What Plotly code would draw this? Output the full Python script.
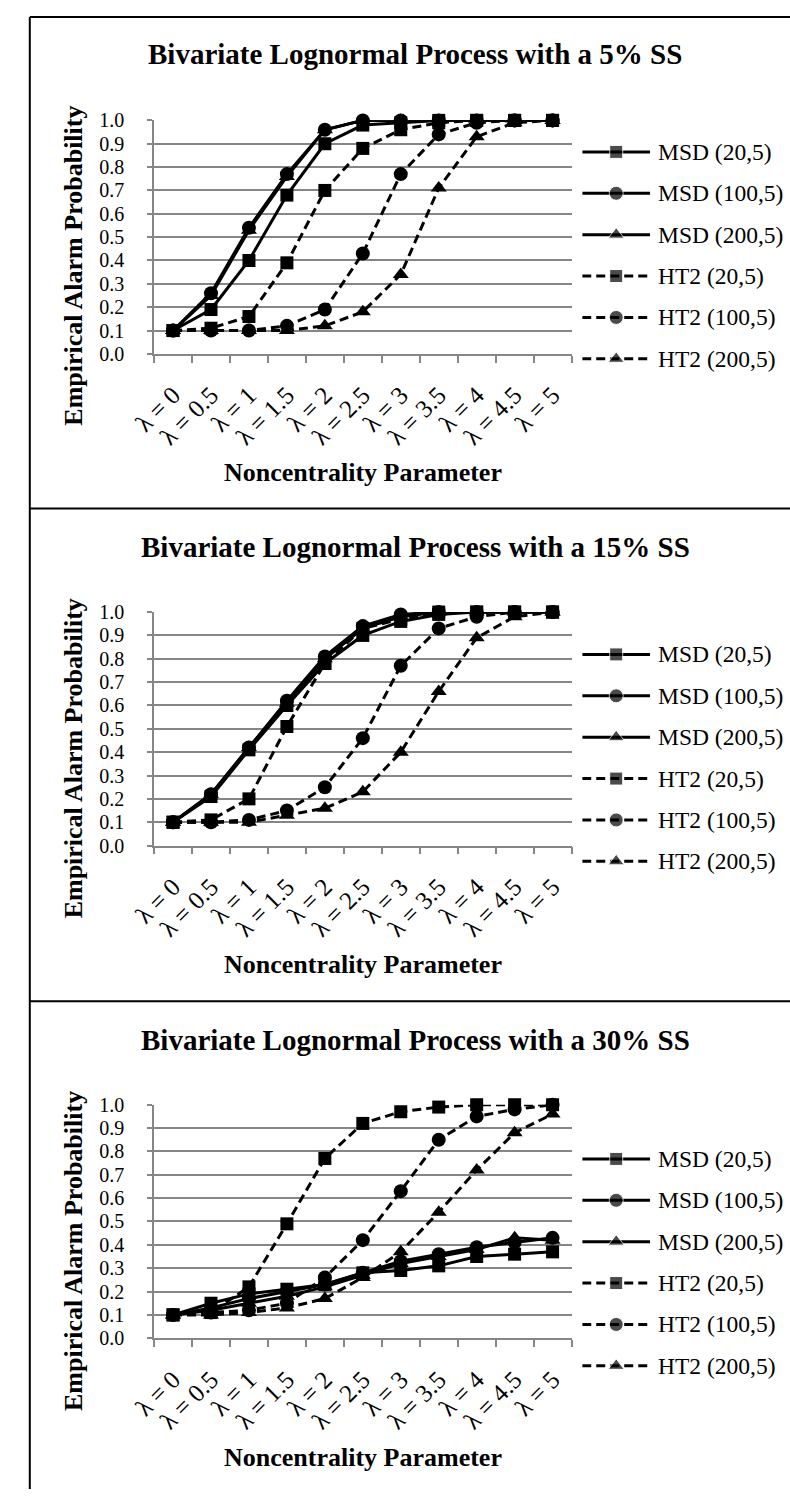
import plotly.graph_objects as go

W, H = 790, 1500

# ---- data -------------------------------------------------------------
categories = ["λ = 0", "λ = 0.5", "λ = 1", "λ = 1.5", "λ = 2", "λ = 2.5",
              "λ = 3", "λ = 3.5", "λ = 4", "λ = 4.5", "λ = 5"]

series_names = ["MSD (20,5)", "MSD (100,5)", "MSD (200,5)",
                "HT2 (20,5)", "HT2 (100,5)", "HT2 (200,5)"]

panel_titles = ["Bivariate Lognormal Process with a 5% SS",
                "Bivariate Lognormal Process with a 15% SS",
                "Bivariate Lognormal Process with a 30% SS"]

# 5% SS
msd_20_ss5 = [0.10, 0.19, 0.40, 0.68, 0.90, 0.98, 0.99, 1.00, 1.00, 1.00, 1.00]
msd_100_ss5 = [0.10, 0.26, 0.54, 0.77, 0.96, 1.00, 1.00, 1.00, 1.00, 1.00, 1.00]
msd_200_ss5 = [0.10, 0.25, 0.53, 0.76, 0.96, 1.00, 1.00, 1.00, 1.00, 1.00, 1.00]
ht2_20_ss5 = [0.10, 0.11, 0.16, 0.39, 0.70, 0.88, 0.96, 0.99, 1.00, 1.00, 1.00]
ht2_100_ss5 = [0.10, 0.10, 0.10, 0.12, 0.19, 0.43, 0.77, 0.94, 0.99, 1.00, 1.00]
ht2_200_ss5 = [0.10, 0.10, 0.10, 0.10, 0.12, 0.18, 0.34, 0.71, 0.93, 0.99, 1.00]

# 15% SS
msd_20_ss15 = [0.10, 0.21, 0.41, 0.60, 0.78, 0.90, 0.96, 0.99, 1.00, 1.00, 1.00]
msd_100_ss15 = [0.10, 0.22, 0.42, 0.62, 0.81, 0.94, 0.99, 1.00, 1.00, 1.00, 1.00]
msd_200_ss15 = [0.10, 0.22, 0.42, 0.61, 0.80, 0.93, 0.98, 1.00, 1.00, 1.00, 1.00]
ht2_20_ss15 = [0.10, 0.11, 0.20, 0.51, 0.78, 0.93, 0.97, 1.00, 1.00, 1.00, 1.00]
ht2_100_ss15 = [0.10, 0.10, 0.11, 0.15, 0.25, 0.46, 0.77, 0.93, 0.98, 1.00, 1.00]
ht2_200_ss15 = [0.10, 0.10, 0.10, 0.13, 0.16, 0.23, 0.40, 0.66, 0.89, 0.98, 1.00]

# 30% SS
msd_20_ss30 = [0.10, 0.15, 0.19, 0.21, 0.23, 0.28, 0.29, 0.31, 0.35, 0.36, 0.37]
msd_100_ss30 = [0.10, 0.13, 0.17, 0.20, 0.23, 0.28, 0.33, 0.36, 0.39, 0.41, 0.43]
msd_200_ss30 = [0.10, 0.12, 0.15, 0.18, 0.22, 0.27, 0.32, 0.35, 0.38, 0.43, 0.42]
ht2_20_ss30 = [0.10, 0.11, 0.22, 0.49, 0.77, 0.92, 0.97, 0.99, 1.00, 1.00, 1.00]
ht2_100_ss30 = [0.10, 0.11, 0.12, 0.15, 0.26, 0.42, 0.63, 0.85, 0.95, 0.98, 1.00]
ht2_200_ss30 = [0.10, 0.10, 0.11, 0.13, 0.17, 0.26, 0.37, 0.54, 0.72, 0.88, 0.96]

panels = [
    [msd_20_ss5, msd_100_ss5, msd_200_ss5, ht2_20_ss5, ht2_100_ss5, ht2_200_ss5],
    [msd_20_ss15, msd_100_ss15, msd_200_ss15, ht2_20_ss15, ht2_100_ss15, ht2_200_ss15],
    [msd_20_ss30, msd_100_ss30, msd_200_ss30, ht2_20_ss30, ht2_100_ss30, ht2_200_ss30],
]

# ---- styling ----------------------------------------------------------
FONT = "Liberation Serif, Times New Roman, serif"
GRID = "#868686"
symbols = ["square", "circle", "triangle-up", "square", "circle", "triangle-up"]
dashes = ["solid", "solid", "solid", "9px,5px", "9px,5px", "9px,5px"]
marker_sizes = [13, 14, 14, 13, 14, 14]
LINE_W = 3

# pixel geometry of each panel
PLOT_X0, PLOT_X1 = 135, 565
PLOT_TOPS = [111, 610, 1110]
PLOT_H = 237
LEG_X0, LEG_X1 = 576, 646
LEG_ROW0 = [143, 653, 1165]
LEG_STEP = 42
PANEL_SHIFT = 500


def fx(x):
    return x / W


def fy(y):
    return 1 - y / H


fig = go.Figure()
layout = dict(
    width=W, height=H,
    margin=dict(l=0, r=0, t=0, b=0),
    paper_bgcolor="white", plot_bgcolor="white",
    showlegend=False,
    font=dict(family=FONT, color="black"),
    annotations=[], shapes=[],
)

for p, values in enumerate(panels):
    n = p + 1
    xa, ya = f"x{n if n > 1 else ''}", f"y{n if n > 1 else ''}"
    top = PLOT_TOPS[p]
    for k, name in enumerate(series_names):
        fig.add_trace(go.Scatter(
            x=categories, y=values[k], name=name, xaxis=xa, yaxis=ya,
            mode="lines+markers", cliponaxis=False,
            line=dict(color="black", width=LINE_W, dash=dashes[k]),
            marker=dict(symbol=symbols[k], size=marker_sizes[k], color="black"),
        ))

    layout[f"xaxis{n if n > 1 else ''}"] = dict(
        domain=[fx(PLOT_X0), fx(PLOT_X1)], anchor=ya,
        type="category", categoryarray=categories, range=[-0.5, len(categories) - 0.5],
        tickson="boundaries", ticks="outside", ticklen=7, tickwidth=1.5, tickcolor=GRID,
        showline=True, linecolor=GRID, linewidth=1.5, showgrid=False, zeroline=False,
        tickangle=-45, ticklabelstandoff=15,
        tickfont=dict(family=FONT, size=25, color="black"),
        fixedrange=True,
    )
    layout[f"yaxis{n if n > 1 else ''}"] = dict(
        domain=[fy(top + PLOT_H), fy(top)], anchor=xa,
        range=[0, 1.0001], dtick=0.1, tick0=0, tickformat=".1f",
        ticks="outside", ticklen=5, tickwidth=1.5, tickcolor=GRID,
        showline=True, linecolor=GRID, linewidth=1.5,
        showgrid=True, gridcolor=GRID, gridwidth=1.5, zeroline=False,
        ticklabelstandoff=19,
        tickfont=dict(family=FONT, size=20, color="black"),
        fixedrange=True,
    )

    # legend glyphs on a small hidden axis pair
    lx, ly = f"x{n + 3}", f"y{n + 3}"
    row0 = LEG_ROW0[p]
    for k, name in enumerate(series_names):
        fig.add_trace(go.Scatter(
            x=[0, 0.5, 1], y=[k, k, k], xaxis=lx, yaxis=ly,
            mode="lines+markers", hoverinfo="skip", cliponaxis=False,
            line=dict(color="black", width=LINE_W, dash=dashes[k]),
            marker=dict(symbol=symbols[k], size=[0, marker_sizes[k], 0], color="black"),
        ))
        layout["annotations"].append(dict(
            xref="paper", yref=ly, x=fx(LEG_X1 + 6), y=k, xanchor="left", yanchor="middle",
            text=name, showarrow=False, font=dict(family=FONT, size=23.5, color="black"),
        ))
    layout[f"xaxis{n + 3}"] = dict(
        domain=[fx(LEG_X0), fx(LEG_X1)], anchor=ly, range=[0, 1], visible=False, fixedrange=True,
    )
    layout[f"yaxis{n + 3}"] = dict(
        domain=[fy(row0 + 5 * LEG_STEP + 21), fy(row0 - 21)], anchor=lx,
        range=[5.5, -0.5], visible=False, fixedrange=True,
    )

    shift = p * PANEL_SHIFT
    # panel title
    layout["annotations"].append(dict(
        xref="paper", yref="paper", x=fx(404), y=fy(44 + shift), xanchor="center", yanchor="middle",
        text=f"<b>{panel_titles[p]}</b>", showarrow=False,
        font=dict(family=FONT, size=29, color="black"),
    ))
    # axis titles
    layout["annotations"].append(dict(
        xref="paper", yref="paper", x=fx(52), y=fy(258 + shift), xanchor="center", yanchor="middle",
        text="<b>Empirical Alarm Probability</b>", showarrow=False, textangle=-90,
        font=dict(family=FONT, size=26, color="black"),
    ))
    layout["annotations"].append(dict(
        xref="paper", yref="paper", x=fx(350), y=fy(468 + shift), xanchor="center", yanchor="middle",
        text="<b>Noncentrality Parameter</b>", showarrow=False,
        font=dict(family=FONT, size=26, color="black"),
    ))

# panel frame lines
frame = dict(color="black", width=2)
layout["shapes"].append(dict(type="line", xref="paper", yref="paper",
                             x0=fx(7), x1=fx(7), y0=fy(6), y1=fy(1500), line=frame))
for yline in (6, 505, 1005):
    layout["shapes"].append(dict(type="line", xref="paper", yref="paper",
                                 x0=fx(7), x1=fx(790), y0=fy(yline), y1=fy(yline), line=frame))

fig.update_layout(**layout)
fig.write_html("out.html")
